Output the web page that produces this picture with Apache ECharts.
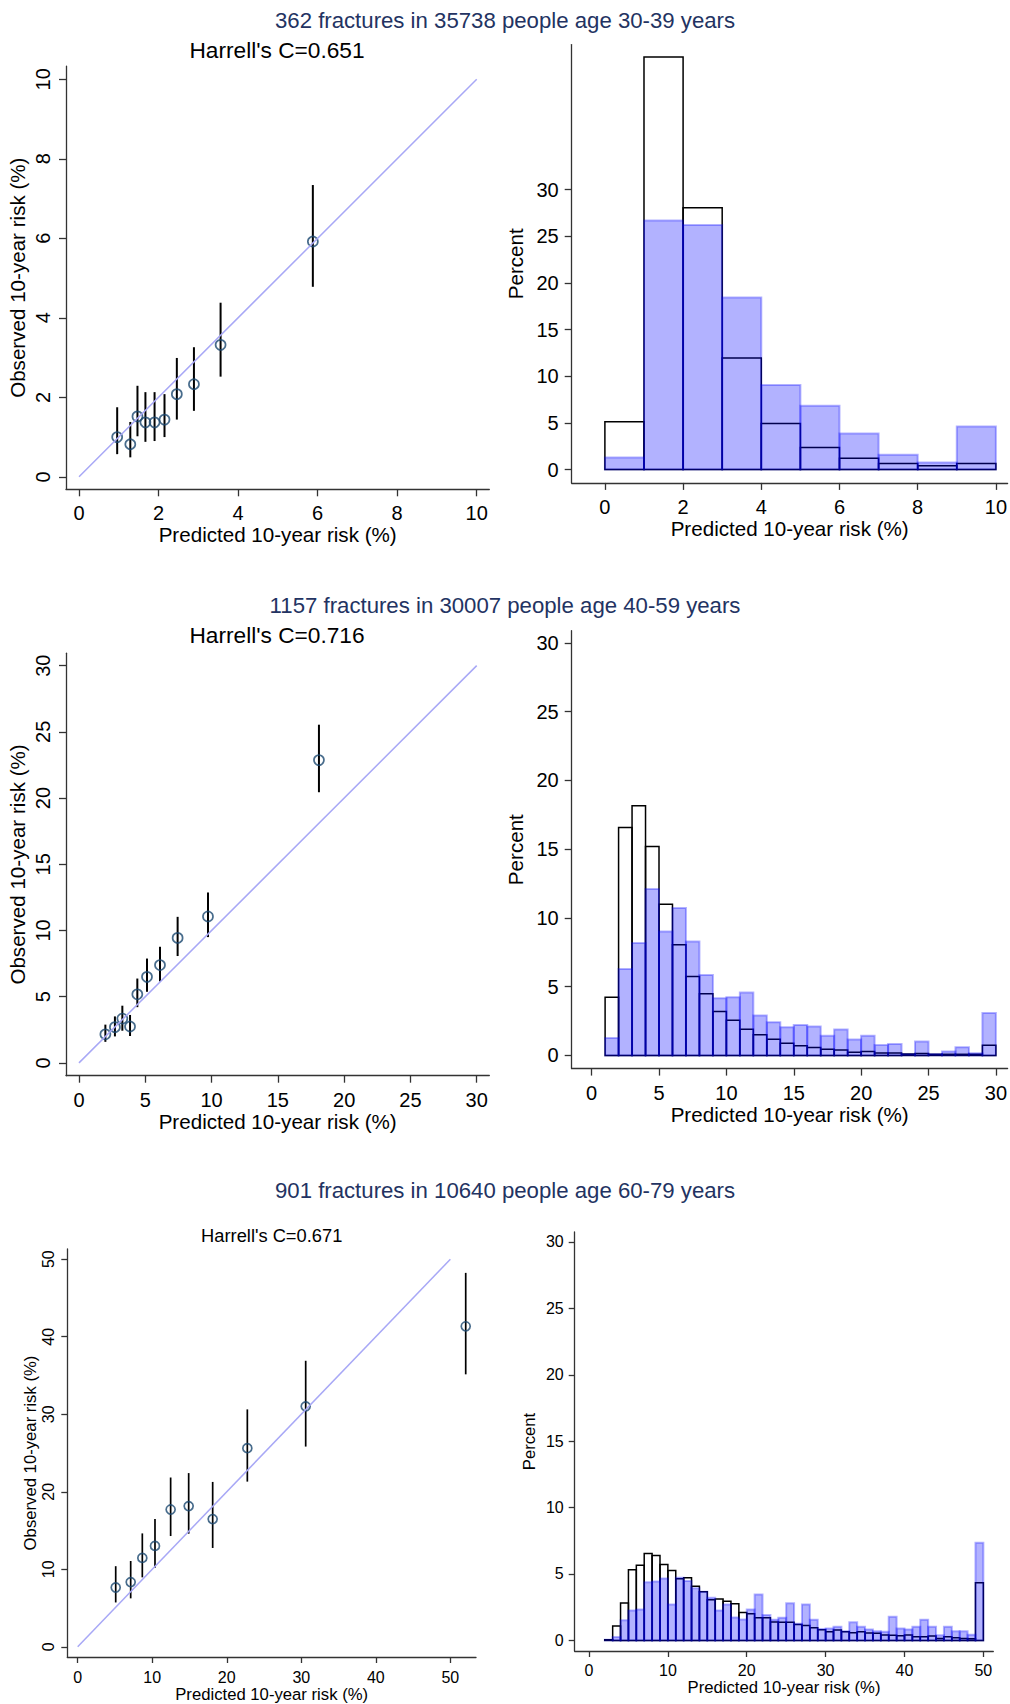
<!DOCTYPE html>
<html>
<head>
<meta charset="utf-8">
<script src="https://cdn.jsdelivr.net/npm/echarts@6/dist/echarts.min.js"></script>
<style>
  html, body { margin: 0; padding: 0; background: #fff; }
  #chart { width: 1010px; height: 1704px; }
</style>
</head>
<body>
<div id="chart"></div>
<script>
// ---- age 30-39 ----
const p1Pred = [0.96, 1.29, 1.47, 1.67, 1.90, 2.15, 2.46, 2.89, 3.56, 5.88];
const p1Obs  = [1.00, 0.82, 1.52, 1.37, 1.37, 1.44, 2.08, 2.33, 3.32, 5.92];
const p1Lo   = [0.57, 0.49, 1.02, 0.88, 0.90, 1.00, 1.44, 1.66, 2.52, 4.78];
const p1Hi   = [1.75, 1.38, 2.29, 2.13, 2.13, 2.08, 2.99, 3.26, 4.38, 7.34];
const p1Ref  = [0, 10];
const p1Bins = [0, 1, 2, 3, 4, 5, 6, 7, 8, 9];
const p1Fract = [5.12, 44.2, 28.05, 11.97, 4.93, 2.37, 1.22, 0.65, 0.42, 0.65];
const p1All   = [1.30, 26.7, 26.2, 18.44, 9.07, 6.85, 3.86, 1.60, 0.75, 4.63];
const p1XTicks = [0, 2, 4, 6, 8, 10];
const p1YTicks = [0, 2, 4, 6, 8, 10];

// ---- age 40-59 ----
const p2Pred = [1.99, 2.71, 3.27, 3.85, 4.40, 5.13, 6.11, 7.44, 9.73, 18.1];
const p2Obs  = [2.16, 2.70, 3.35, 2.75, 5.18, 6.50, 7.39, 9.44, 11.06, 22.87];
const p2Lo   = [1.59, 2.00, 2.43, 2.03, 4.21, 5.37, 6.15, 8.07, 9.50, 20.44];
const p2Hi   = [2.89, 3.51, 4.32, 3.62, 6.37, 7.88, 8.77, 11.03, 12.87, 25.54];
const p2Ref  = [0, 30];
const p2Bins = [1, 2, 3, 4, 5, 6, 7, 8, 9, 10, 11, 12, 13, 14, 15, 16, 17, 18, 19, 20,
                21, 22, 23, 24, 25, 26, 27, 28, 29];
const p2Fract = [4.23, 16.57, 18.16, 15.19, 10.99, 8.05, 5.74, 4.49, 3.19, 2.55,
                 1.90, 1.51, 1.17, 0.88, 0.70, 0.57, 0.44, 0.39, 0.23, 0.29,
                 0.18, 0.18, 0.10, 0.13, 0.08, 0.08, 0.08, 0.08, 0.73];
const p2All   = [1.27, 6.29, 8.18, 12.1, 9.01, 10.73, 8.29, 5.84, 4.16, 4.23,
                 4.57, 2.91, 2.42, 2.05, 2.21, 2.11, 1.43, 1.89, 1.16, 1.43,
                 0.75, 0.83, 0.10, 1.01, 0.10, 0.29, 0.60, 0.16, 3.08];
const p2XTicks = [0, 5, 10, 15, 20, 25, 30];

// ---- age 60-79 ----
const p3Pred = [5.1, 7.11, 8.67, 10.37, 12.47, 14.89, 18.11, 22.76, 30.59, 52.06];
const p3Obs  = [7.65, 8.35, 11.47, 13.01, 17.71, 18.15, 16.48, 25.62, 31.02, 41.35];
const p3Lo   = [5.72, 6.25, 8.96, 10.2, 14.29, 14.59, 12.75, 21.31, 25.83, 35.15];
const p3Hi   = [10.4, 11.07, 14.63, 16.48, 21.84, 22.41, 21.27, 30.63, 36.9, 48.24];
const p3Ref  = [0, 50];
const p3Bins = [2, 3, 4, 5, 6, 7, 8, 9, 10, 11, 12, 13, 14, 15, 16, 17, 18, 19, 20, 21,
                22, 23, 24, 25, 26, 27, 28, 29, 30, 31, 32, 33, 34, 35, 36, 37, 38, 39, 40, 41,
                42, 43, 44, 45, 46, 47, 48, 49];
const p3Fract = [0.05, 1.08, 2.81, 5.32, 5.65, 6.55, 6.40, 5.72, 5.27, 4.65,
                 4.72, 4.07, 3.66, 3.06, 3.11, 2.94, 2.76, 2.11, 2.01, 1.71,
                 1.71, 1.38, 1.36, 1.36, 1.20, 1.12, 0.95, 0.80, 0.65, 0.78,
                 0.65, 0.58, 0.65, 0.55, 0.53, 0.40, 0.38, 0.35, 0.40, 0.28,
                 0.28, 0.33, 0.15, 0.28, 0.20, 0.15, 0.13, 4.34];
const p3All   = [0.05, 0.25, 1.51, 2.26, 2.33, 4.37, 4.44, 4.67, 2.71, 4.72,
                 4.47, 3.92, 3.66, 3.21, 2.26, 2.71, 1.73, 1.58, 2.33, 3.46,
                 1.91, 1.56, 1.71, 2.79, 1.26, 2.71, 1.56, 0.85, 0.90, 1.03,
                 0.68, 1.36, 1.03, 0.83, 0.68, 0.65, 1.78, 0.90, 0.83, 1.03,
                 1.56, 1.03, 0.38, 1.03, 0.68, 0.68, 0.43, 7.35];
const p3XTicks = [0, 10, 20, 30, 40, 50];
const pctTicks = [0, 5, 10, 15, 20, 25, 30];
const binWidth = 1;

const FONT = '"Liberation Sans", Arial, Helvetica, sans-serif';
const AXIS = '#333';
const NAVY = '#1a476f';

function grid(l, t, r, b) {
  return { left: l, top: t, width: r - l, height: b - t };
}

function axis(dim, i, min, max, ticks, o) {
  return {
    type: 'value', gridIndex: i, min: min, max: max,
    position: dim === 'x' ? 'bottom' : 'left',
    splitLine: { show: false },
    axisLine: { show: true, onZero: false, lineStyle: { color: AXIS, width: 1.3 } },
    axisTick: { show: true, length: o.tick, customValues: ticks, lineStyle: { color: AXIS, width: 1.3 } },
    axisLabel: { customValues: ticks, fontSize: o.fs, color: '#000', fontFamily: FONT,
                 margin: o.margin, rotate: o.rotate || 0 },
    name: o.name, nameLocation: 'middle', nameGap: o.gap,
    nameTextStyle: { fontSize: o.nfs, color: '#000', fontFamily: FONT }
  };
}

function refLine(i, ref) {
  return { type: 'line', xAxisIndex: i, yAxisIndex: i, symbol: 'none', silent: true,
           data: [[ref[0], ref[0]], [ref[1], ref[1]]],
           lineStyle: { color: '#a8a8f6', width: 1.5 } };
}

function errBars(i, xs, lo, hi, w) {
  return {
    type: 'custom', xAxisIndex: i, yAxisIndex: i, silent: true,
    data: xs.map((x, j) => [x, lo[j], hi[j]]),
    encode: { x: 0, y: [1, 2] },
    renderItem: function (params, api) {
      const a = api.coord([api.value(0), api.value(1)]);
      const b = api.coord([api.value(0), api.value(2)]);
      return { type: 'line', shape: { x1: a[0], y1: a[1], x2: b[0], y2: b[1] },
               style: { stroke: '#000', lineWidth: w } };
    }
  };
}

function points(i, xs, ys, size) {
  return { type: 'scatter', xAxisIndex: i, yAxisIndex: i, symbol: 'circle', symbolSize: size,
           data: xs.map((x, j) => [x, ys[j]]),
           itemStyle: { color: 'rgba(255,255,255,0)', borderColor: NAVY, borderWidth: 1.7 } };
}

function hist(i, bins, heights, style) {
  return {
    type: 'custom', xAxisIndex: i, yAxisIndex: i, silent: true,
    data: bins.map((b, j) => [b, b + binWidth, heights[j]]),
    encode: { x: [0, 1], y: 2 },
    renderItem: function (params, api) {
      const p0 = api.coord([api.value(0), 0]);
      const p1 = api.coord([api.value(1), api.value(2)]);
      return { type: 'rect',
               shape: { x: p0[0], y: p1[1], width: p1[0] - p0[0], height: p0[1] - p1[1] },
               style: style };
    }
  };
}

const blackBar = { fill: 'none', stroke: '#000', lineWidth: 1.5 };
const blueBar = { fill: 'rgba(0,0,255,0.3)', stroke: 'rgba(0,0,255,0.3)', lineWidth: 2 };

const big = { tick: 7, fs: 20, nfs: 20.6 };
const small = { tick: 6, fs: 16, nfs: 16.7 };
const predName = 'Predicted 10-year risk (%)';
const obsName = 'Observed 10-year risk (%)';

const option = {
  animation: false,
  backgroundColor: '#fff',
  grid: [
    grid(66, 66.1, 489.3, 489.3),
    grid(571.7, 44.6, 1009, 482.9),
    grid(66, 653.2, 489.3, 1075.7),
    grid(571.7, 630.7, 1009, 1068.6),
    grid(67.3, 1249, 476, 1657),
    grid(574.7, 1232, 993.3, 1651)
  ],
  xAxis: [
    axis('x', 0, -0.327, 10.317, p1XTicks, Object.assign({}, big, { margin: 14, name: predName, gap: 35 })),
    axis('x', 1, -0.849, 10.30, p1XTicks, Object.assign({}, big, { margin: 14, name: predName, gap: 34 })),
    axis('x', 2, -0.98, 30.95, p2XTicks, Object.assign({}, big, { margin: 14, name: predName, gap: 35 })),
    axis('x', 3, -1.479, 30.87, p2XTicks, Object.assign({}, big, { margin: 14, name: predName, gap: 34 })),
    axis('x', 4, -1.395, 53.44, p3XTicks, Object.assign({}, small, { margin: 12, name: predName, gap: 27 })),
    axis('x', 5, -1.813, 51.26, p3XTicks, Object.assign({}, small, { margin: 11, name: predName, gap: 26 }))
  ],
  yAxis: [
    axis('y', 0, -0.314, 10.332, p1YTicks, Object.assign({}, big, { margin: 13, rotate: 90, name: obsName, gap: 38 })),
    axis('y', 1, -1.425, 45.54, pctTicks, Object.assign({}, big, { margin: 13, name: 'Percent', gap: 46 })),
    axis('y', 2, -0.967, 30.94, p2XTicks, Object.assign({}, big, { margin: 13, rotate: 90, name: obsName, gap: 38 })),
    axis('y', 3, -0.96, 30.89, pctTicks, Object.assign({}, big, { margin: 13, name: 'Percent', gap: 46 })),
    axis('y', 4, -1.316, 51.32, p3XTicks, Object.assign({}, small, { margin: 11, rotate: 90, name: obsName, gap: 28 })),
    axis('y', 5, -0.798, 30.75, pctTicks, Object.assign({}, small, { margin: 11, name: 'Percent', gap: 37 }))
  ],
  graphic: [
    { type: 'text', x: 505, y: 20, style: { text: '362 fractures in 35738 people age 30-39 years',
      fill: '#233362', fontSize: 22.2, fontFamily: FONT, align: 'center', verticalAlign: 'middle' } },
    { type: 'text', x: 277, y: 50, style: { text: "Harrell's C=0.651",
      fill: '#000', fontSize: 22.7, fontFamily: FONT, align: 'center', verticalAlign: 'middle' } },
    { type: 'text', x: 505, y: 605, style: { text: '1157 fractures in 30007 people age 40-59 years',
      fill: '#233362', fontSize: 22.2, fontFamily: FONT, align: 'center', verticalAlign: 'middle' } },
    { type: 'text', x: 277, y: 635.4, style: { text: "Harrell's C=0.716",
      fill: '#000', fontSize: 22.7, fontFamily: FONT, align: 'center', verticalAlign: 'middle' } },
    { type: 'text', x: 505, y: 1190.6, style: { text: '901 fractures in 10640 people age 60-79 years',
      fill: '#233362', fontSize: 22.2, fontFamily: FONT, align: 'center', verticalAlign: 'middle' } },
    { type: 'text', x: 271.7, y: 1235.4, style: { text: "Harrell's C=0.671",
      fill: '#000', fontSize: 18.3, fontFamily: FONT, align: 'center', verticalAlign: 'middle' } }
  ],
  series: [
    refLine(0, p1Ref), errBars(0, p1Pred, p1Lo, p1Hi, 2), points(0, p1Pred, p1Obs, 10),
    hist(1, p1Bins, p1Fract, blackBar), hist(1, p1Bins, p1All, blueBar),
    refLine(2, p2Ref), errBars(2, p2Pred, p2Lo, p2Hi, 2), points(2, p2Pred, p2Obs, 10),
    hist(3, p2Bins, p2Fract, blackBar), hist(3, p2Bins, p2All, blueBar),
    refLine(4, p3Ref), errBars(4, p3Pred, p3Lo, p3Hi, 1.7), points(4, p3Pred, p3Obs, 9),
    hist(5, p3Bins, p3Fract, blackBar), hist(5, p3Bins, p3All, blueBar)
  ]
};

const chart = echarts.init(document.getElementById('chart'), null, { renderer: 'svg' });
chart.setOption(option);
</script>
</body>
</html>
